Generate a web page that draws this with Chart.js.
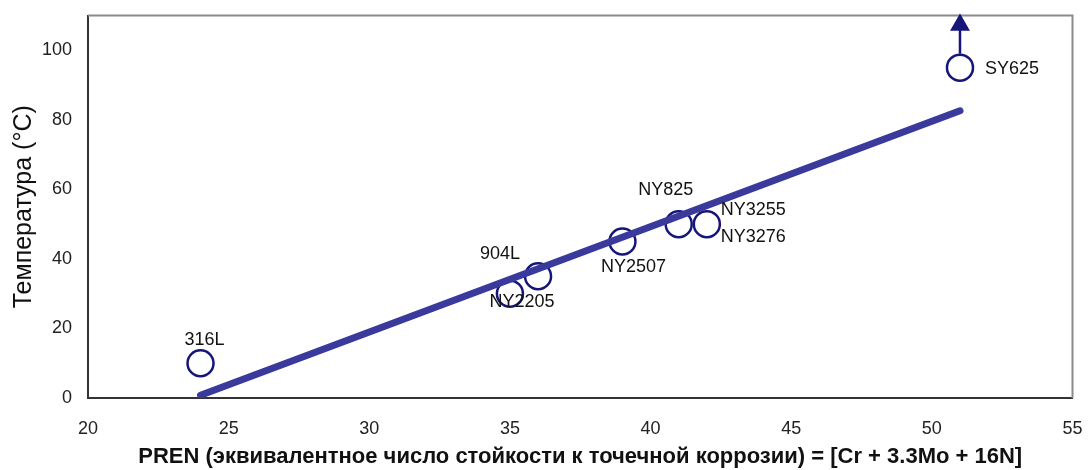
<!DOCTYPE html>
<html>
<head>
<meta charset="utf-8">
<script src="https://cdn.jsdelivr.net/npm/chart.js@4"></script>
<style>
  html, body { margin: 0; padding: 0; background: #fff; }
  #wrap { width: 1088px; height: 470px; }
</style>
</head>
<body>
<div id="wrap"><canvas id="chart"></canvas></div>
<script>
// steel grades and measured critical pitting temperatures
const grades = ['316L', '904L', 'NY2205', 'NY2507', 'NY825', 'NY3255', 'SY625'];
const prenValues = [24, 36, 35, 39, 41, 42, 51];
const tempValues = [10, 35, 30, 45, 50, 50, 95];
// trend line end points
const trendX = [24, 51];
const trendY = [0.8, 82.6];
// "greater than" arrow above SY625
const arrowX = [51, 51];
const arrowY = [99, 107.3];
const xTicks = [20, 25, 30, 35, 40, 45, 50, 55];
const yTicks = [0, 20, 40, 60, 80, 100];

const FONT = '"Liberation Sans", Arial, sans-serif';

// label offsets in px from the marker centre
const labelOffsets = {
    '316L': [4, -23, 'center'],
    '904L': [-38, -22, 'center'],
    'NY2205': [12, 8, 'center'],
    'NY2507': [11, 26, 'center'],
    'NY825': [-13, -34, 'center'],
    'NY3255': [14, -14, 'left'],
    'NY3276': [14, 13, 'left'],
    'SY625': [25, 1, 'left']
};

const pointLabels = {
    id: 'pointLabels',
    afterDatasetsDraw(chart) {
        const ctx = chart.ctx;
        const meta = chart.getDatasetMeta(1);
        ctx.save();
        ctx.font = '18px ' + FONT;
        ctx.fillStyle = '#111';
        ctx.textBaseline = 'middle';
        grades.forEach((g, i) => {
            const pt = meta.data[i];
            const names = g === 'NY3255' ? ['NY3255', 'NY3276'] : [g];
            names.forEach(n => {
                const o = labelOffsets[n];
                ctx.textAlign = o[2];
                ctx.fillText(n, pt.x + o[0], pt.y + o[1]);
            });
        });
        ctx.restore();
    }
};

const frame = {
    id: 'frame',
    beforeDatasetsDraw(chart) {
        const a = chart.chartArea;
        const ctx = chart.ctx;
        ctx.save();
        ctx.strokeStyle = '#8a8a8a';
        ctx.lineWidth = 2;
        ctx.beginPath();
        ctx.moveTo(a.left, a.top);
        ctx.lineTo(a.right, a.top);
        ctx.lineTo(a.right, a.bottom);
        ctx.stroke();
        ctx.restore();
    }
};

new Chart(document.getElementById('chart'), {
    type: 'scatter',
    data: {
        datasets: [
            {
                label: 'trend',
                data: trendX.map((x, i) => ({ x: x, y: trendY[i] })),
                showLine: true,
                borderColor: '#3a3a9c',
                borderWidth: 7,
                borderCapStyle: 'round',
                pointRadius: 0,
                order: 0
            },
            {
                label: 'grades',
                data: prenValues.map((x, i) => ({ x: x, y: tempValues[i] })),
                pointRadius: 13,
                pointBorderWidth: 2.5,
                pointBorderColor: '#15157a',
                pointBackgroundColor: 'rgba(255,255,255,0)',
                order: 1
            },
            {
                label: 'arrow',
                data: arrowX.map((x, i) => ({ x: x, y: arrowY[i] })),
                showLine: true,
                borderColor: '#15157a',
                borderWidth: 2.5,
                pointRadius: [0, 9],
                pointStyle: 'triangle',
                pointBackgroundColor: '#15157a',
                pointBorderColor: '#15157a',
                clip: false,
                order: 2
            }
        ]
    },
    options: {
        responsive: true,
        maintainAspectRatio: false,
        animation: false,
        layout: { padding: { top: 15, right: 0, left: 0, bottom: 0 } },
        plugins: {
            legend: { display: false },
            tooltip: { enabled: false }
        },
        scales: {
            x: {
                type: 'linear',
                min: 20,
                max: 55,
                afterBuildTicks: axis => { axis.ticks = xTicks.map(v => ({ value: v })); },
                afterFit: axis => {
                    axis.height = 72;
                    axis.paddingLeft = 0;
                    axis.paddingRight = 12;
                },
                grid: { display: false, drawTicks: true, tickLength: 6, tickColor: '#333' },
                border: { color: '#333', width: 2 },
                ticks: {
                    color: '#222',
                    padding: 14,
                    font: { family: FONT, size: 18 }
                },
                title: {
                    display: true,
                    text: 'PREN (эквивалентное число стойкости к точечной коррозии) = [Cr + 3.3Mo + 16N]',
                    color: '#111',
                    padding: { top: 4, bottom: 0 },
                    font: { family: FONT, size: 22, weight: 'bold' }
                }
            },
            y: {
                min: 0,
                max: 110,
                afterBuildTicks: axis => { axis.ticks = yTicks.map(v => ({ value: v })); },
                afterFit: axis => {
                    axis.width = 88;
                    axis.paddingTop = 0;
                    axis.paddingBottom = 0;
                },
                grid: { display: false, drawTicks: true, tickLength: 6, tickColor: '#333' },
                border: { color: '#333', width: 2 },
                ticks: {
                    color: '#222',
                    padding: 10,
                    font: { family: FONT, size: 18 }
                },
                title: {
                    display: true,
                    text: 'Температура (°C)',
                    color: '#111',
                    padding: { bottom: 0, top: 9 },
                    font: { family: FONT, size: 25 }
                }
            }
        }
    },
    plugins: [pointLabels, frame]
});
</script>
</body>
</html>
